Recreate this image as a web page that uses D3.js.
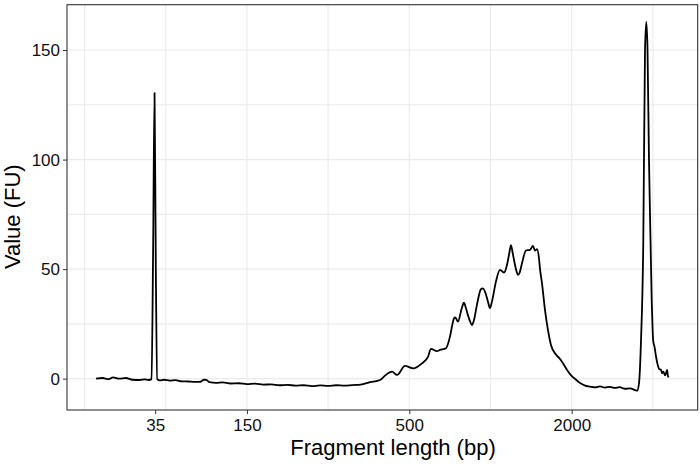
<!DOCTYPE html>
<html>
<head>
<meta charset="utf-8">
<script src="https://cdn.jsdelivr.net/npm/d3@7"></script>
<style>
  body { margin: 0; background: #fff; }
  svg { font-family: "Liberation Sans", Arial, sans-serif; }
</style>
</head>
<body>
<svg id="chart" width="700" height="465"></svg>
<script>
// migration time (s) and fluorescence (FU)
const migrationTime = [
  41.42, 42.2, 43.0, 43.5, 44.3, 45.1, 45.9, 46.8, 47.4, 47.9,
  48.25, 48.45, 48.62, 48.78, 48.95, 49.3, 49.8, 50.5, 51.2, 52.0,
  52.8, 53.6, 54.3, 54.7, 55.0, 55.4, 56.2, 57.0, 58.0, 59.0,
  60.0, 61.0, 62.0, 63.0, 64.0, 65.0, 66.0, 67.0, 68.0, 69.0,
  70.0, 71.0, 72.0, 73.0, 74.0, 75.16, 76.39, 77.01, 77.87, 78.49,
  79.47, 80.46, 81.56, 82.30, 82.67, 83.41, 83.78, 84.52, 85.01, 85.38,
  85.5, 85.62, 85.75, 85.99, 86.45, 86.73, 86.95, 87.22, 87.5, 87.71,
  87.95, 88.33, 88.82, 89.07, 89.32, 89.7, 89.93, 90.2, 90.67,
  91.16, 91.66, 92.03, 92.3, 92.52, 92.75, 93.02, 93.2, 93.39, 93.6,
  93.88, 94.37, 94.87, 95.23, 95.48, 95.73, 95.97, 96.1, 96.34, 96.71,
  97.08, 97.45, 98.06, 98.56, 98.93,
  99.43, 99.93, 100.55, 101.04, 101.66, 102.28, 102.9, 103.49, 104.1, 104.7,
  105.3, 105.9, 106.57, 107.2, 107.8, 108.05, 108.29, 108.54, 108.82, 109.03,
  109.19, 109.34, 109.52, 109.71, 109.86, 109.97, 110.05, 110.2, 110.39, 110.55,
  110.76, 111.0, 111.13, 111.3, 111.5, 111.62, 111.75, 111.87, 112.0
]
const fluorescence = [
  0, 0.3, -0.2, 0.6, 0, 0.3, -0.5, -0.6, -0.3, -0.6,
  -0.2, 60, 130.4, 50, -0.3, -0.8, -0.5, -0.9, -0.7, -1.2,
  -1.3, -1.5, -1.4, -0.5, -0.6, -1.6, -1.9, -1.7, -2.2, -2.1,
  -2.5, -2.3, -2.7, -2.6, -3.0, -2.8, -3.2, -3.0, -3.4, -3.1,
  -3.3, -3.0, -3.2, -2.9, -2.7, -1.6, -0.6, 1.4, 3.2, 1.7,
  5.8, 4.7, 7.0, 10, 13.6, 12.6, 13.1, 13.9, 19.2, 26,
  27.5, 28, 27.6, 26, 32, 34.7, 32.5, 29, 26, 24.5,
  26.5, 33.7, 40.8, 41.2, 39.7, 35, 32.2, 35.5, 44.3,
  49.7, 48.4, 51.9, 57, 61, 57, 51.9, 49, 47.4, 48.5,
  52.7, 58.5, 58.8, 60.6, 58.5, 59.1, 55, 50, 43.6, 31.4,
  22.2, 15.4, 11, 9, 7,
  4, 1.5, -0.5, -2, -3.2, -3.6, -4.0, -3.5, -4.1, -3.7,
  -4.2, -3.9, -4.6, -4.4, -5.2, -5.5, -2.1, 17.7, 63, 150,
  162.8, 150, 100, 63, 35, 22, 17, 14.6, 10, 7,
  4.5, 4, 2.5, 3.2, 1.5, 2.5, 4, 0.9, 0.9
]

// ladder positions (s) and their sizes
const ladderTimes = [48.7, 60, 80, 100]
const ladderLabels = ["35", "150", "500", "2000"]
const yTicks = [0, 50, 100, 150]
const xGrid = [40, 50, 60, 70, 80, 90, 100, 110]
const yGrid = [0, 25, 50, 75, 100, 125, 150]

const margin = { top: 4.7, right: 2.3, bottom: 55, left: 67 }
const width = 700 - margin.left - margin.right
const height = 465 - margin.top - margin.bottom

const svg = d3.select('#chart')
const g = svg.append('g')
  .attr('transform', 'translate(' + margin.left + ',' + margin.top + ')')

const xScale = d3.scaleLinear().domain([37.84, 115.52]).range([0, width])
const yScale = d3.scaleLinear().domain([-14.3, 170.7]).range([height, 0])

// grid
g.append('g').selectAll('line')
  .data(xGrid)
  .enter().append('line')
  .attr('x1', d => xScale(d)).attr('x2', d => xScale(d))
  .attr('y1', 0).attr('y2', height)
  .attr('stroke', '#ebebeb').attr('stroke-width', 1.1)

g.append('g').selectAll('line')
  .data(yGrid)
  .enter().append('line')
  .attr('y1', d => yScale(d)).attr('y2', d => yScale(d))
  .attr('x1', 0).attr('x2', width)
  .attr('stroke', '#ebebeb').attr('stroke-width', 1.1)

// trace
const trace = migrationTime.map((t, i) => [t, fluorescence[i]])
const line = d3.line()
  .curve(d3.curveMonotoneX)
  .x(d => xScale(d[0]))
  .y(d => yScale(d[1]))

g.append('path')
  .datum(trace)
  .attr('fill', 'none')
  .attr('stroke', '#000')
  .attr('stroke-width', 1.8)
  .attr('stroke-linejoin', 'round')
  .attr('d', line)

// axes
const xAxis = d3.axisBottom(xScale)
  .tickValues(ladderTimes)
  .tickFormat((d, i) => ladderLabels[i])
  .tickSize(4).tickPadding(5)
const yAxis = d3.axisLeft(yScale)
  .tickValues(yTicks)
  .tickSize(4).tickPadding(3)

const gx = g.append('g').attr('transform', 'translate(0,' + height + ')').call(xAxis)
const gy = g.append('g').call(yAxis)
gx.select('.domain').remove()
gy.select('.domain').remove()
svg.selectAll('.tick line').attr('stroke', '#333')
svg.selectAll('.tick text').attr('fill', '#111').style('font-size', '17px')

// panel border
g.append('rect')
  .attr('width', width).attr('height', height)
  .attr('fill', 'none').attr('stroke', '#333').attr('stroke-width', 1.1)

// titles
svg.append('text')
  .attr('x', 393).attr('y', 455)
  .attr('text-anchor', 'middle')
  .style('font-size', '22px')
  .attr('fill', '#000')
  .text('Fragment length (bp)')

svg.append('text')
  .attr('transform', 'translate(20,216.7) rotate(-90)')
  .attr('text-anchor', 'middle')
  .style('font-size', '22px')
  .attr('fill', '#000')
  .text('Value (FU)')
</script>
</body>
</html>
